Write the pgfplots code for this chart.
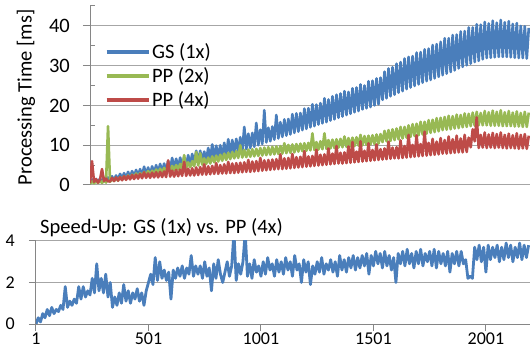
\documentclass[border=0pt]{standalone}
\usepackage{fontspec}
\setmainfont{Carlito}
\usepackage{pgfplots}
\usepackage{pgfplotstable}
\pgfplotsset{compat=1.18}
\definecolor{gsblue}{HTML}{4A7EBB}
\definecolor{ppgreen}{HTML}{98B954}
\definecolor{ppred}{HTML}{BE4B48}
\definecolor{gridgray}{HTML}{A6A6A6}
\definecolor{axisgray}{HTML}{868686}
\newcommand\fA{\fontsize{20.5bp}{23bp}\selectfont}
\newcommand\fB{\fontsize{18bp}{21bp}\selectfont}
\pgfplotstableread{
x gs pp2 pp4 su
1 0.5 0.3 0.5 0.0
11 1.4 0.9 6.0 0.3
21 0.6 0.4 0.8 0.1
31 1.5 1.0 1.5 0.5
41 0.7 0.5 0.6 0.3
51 1.6 1.1 1.4 0.7
61 0.8 0.5 4.0 0.4
71 1.8 1.2 1.0 0.8
81 0.9 0.6 1.6 0.5
91 1.9 14.8 0.9 0.7
101 1.0 0.8 0.9 0.6
111 2.2 1.6 1.8 0.9
121 1.2 1.0 1.0 0.7
131 2.4 1.8 1.9 1.8
141 1.3 1.1 1.1 0.8
151 2.8 2.0 2.0 1.1
161 1.5 1.3 1.2 0.9
171 3.0 2.2 2.2 1.2
181 1.6 1.5 1.3 1.0
191 3.3 2.4 2.3 1.8
201 1.8 1.7 1.4 1.2
211 3.5 2.6 2.5 1.8
221 2.0 1.9 1.5 1.3
231 3.8 2.9 2.6 1.6
241 2.1 2.0 1.6 1.4
251 4.0 3.0 2.8 2.2
261 2.3 2.2 1.7 1.5
271 4.6 3.3 3.2 2.9
281 2.5 2.4 1.8 1.6
291 4.4 3.5 2.9 2.2
301 2.5 2.5 1.8 1.5
311 4.7 3.6 3.1 2.4
321 2.8 2.7 1.9 1.3
331 5.0 3.9 3.2 2.0
341 3.0 2.9 1.9 0.8
351 5.3 4.1 3.3 1.3
361 3.3 3.1 2.0 0.9
371 5.4 4.3 3.4 1.5
381 3.5 3.3 2.0 1.0
391 6.0 4.6 6.2 1.9
401 3.8 3.5 2.1 1.1
411 6.8 4.8 3.6 1.6
421 4.0 3.7 2.1 1.0
431 6.6 5.0 3.8 1.5
441 4.3 3.9 2.2 1.2
451 6.9 5.3 3.9 1.7
461 4.6 4.1 2.3 1.1
471 7.0 7.5 5.8 1.5
481 4.8 4.3 2.3 0.9
491 7.5 5.7 4.1 1.6
501 5.1 4.5 2.4 2.0
511 7.8 6.0 4.2 2.4
521 5.3 4.7 2.4 1.9
531 8.6 8.3 4.4 3.2
541 5.6 4.9 2.5 2.1
551 8.6 8.0 4.5 3.0
561 5.9 5.1 2.6 2.2
571 8.4 6.7 5.2 2.6
581 6.1 5.3 2.6 2.1
591 9.3 6.9 4.7 2.5
601 6.4 5.4 2.7 1.2
611 10.2 7.2 4.8 2.6
621 6.6 5.7 2.8 2.2
631 9.9 7.4 5.5 2.7
641 6.9 5.9 2.8 2.3
651 10.0 7.6 5.0 2.8
661 7.1 6.1 2.9 2.2
671 10.6 7.9 5.2 2.7
681 7.4 6.3 2.9 2.4
691 11.5 8.1 5.8 3.3
701 7.7 6.5 3.0 2.3
711 11.3 8.3 5.4 2.8
721 7.9 6.7 3.0 2.4
731 11.6 8.5 5.5 2.8
741 8.3 6.8 3.1 2.2
751 12.0 10.0 5.6 3.0
761 8.6 6.9 3.2 2.3
771 14.6 8.8 5.7 2.7
781 9.0 7.0 3.3 1.6
791 12.9 8.9 6.3 2.9
801 9.3 7.1 3.3 2.2
811 13.1 9.0 5.9 3.1
821 9.6 7.2 3.4 2.4
831 15.6 9.1 6.0 2.0
841 10.0 7.3 3.5 2.5
851 13.9 9.3 6.8 3.0
861 10.3 7.4 3.6 2.3
871 18.8 9.4 6.2 2.8
881 10.7 7.5 3.7 4.4
891 14.4 9.5 6.3 2.1
901 11.0 7.6 3.8 2.9
911 14.7 9.6 6.4 2.4
921 11.4 7.7 3.9 3.0
931 17.6 9.7 6.5 4.4
941 11.7 7.8 4.0 2.3
951 15.8 9.8 7.7 2.9
961 12.1 7.9 4.0 2.2
971 16.5 10.5 6.7 3.1
981 12.4 8.0 4.1 2.5
991 16.6 10.1 6.8 2.8
1001 12.7 8.1 4.2 2.3
1011 17.8 10.2 7.8 3.0
1021 13.1 8.2 4.3 2.4
1031 18.0 10.3 7.0 3.2
1041 13.4 8.4 4.4 2.6
1051 18.1 10.4 7.1 2.9
1061 13.8 8.5 4.5 2.3
1071 19.2 10.5 8.5 3.1
1081 14.1 8.6 4.6 2.5
1091 19.3 10.6 7.2 3.0
1101 14.5 8.7 4.7 2.4
1111 20.3 13.0 7.3 3.2
1121 14.8 8.8 4.8 2.6
1131 20.2 10.8 8.9 3.0
1141 15.2 8.9 4.9 2.3
1151 20.6 11.0 7.6 3.3
1161 15.5 9.0 5.0 2.6
1171 21.8 13.0 7.7 2.9
1181 15.8 9.1 5.1 2.0
1191 21.5 11.3 9.2 3.1
1201 16.2 9.2 5.2 2.5
1211 22.3 11.4 7.9 3.0
1221 16.5 9.3 5.3 1.9
1231 22.7 11.5 9.8 2.8
1241 16.9 9.4 5.4 2.4
1251 23.0 11.6 8.1 3.0
1261 17.2 9.5 5.4 2.5
1271 23.6 12.2 8.2 3.2
1281 17.6 9.6 5.5 2.4
1291 23.4 11.8 9.7 2.9
1301 17.9 9.7 5.6 2.6
1311 24.3 11.9 10.8 3.1
1321 18.3 9.8 5.7 2.5
1331 24.5 12.0 8.4 3.0
1341 18.6 9.9 5.8 2.3
1351 25.3 12.6 11.0 3.3
1361 19.0 10.0 5.9 2.6
1371 25.0 12.3 8.6 3.1
1381 19.3 10.1 6.0 2.5
1391 26.1 12.4 10.5 3.2
1401 19.6 10.2 6.1 2.7
1411 26.2 12.5 8.8 3.3
1421 20.0 10.3 6.2 2.6
1431 26.8 12.7 10.2 3.2
1441 20.3 10.4 6.3 2.7
1451 27.0 12.8 9.0 3.3
1461 21.4 10.8 6.4 2.8
1471 28.5 13.6 9.2 3.4
1481 21.8 11.0 6.5 2.4
1491 29.3 13.8 10.9 3.3
1501 22.3 11.1 6.6 2.8
1511 29.6 14.0 9.4 3.5
1521 22.7 11.3 6.7 2.9
1531 30.5 14.2 9.5 3.4
1541 23.2 11.5 6.7 2.7
1551 30.9 14.6 11.2 3.5
1561 23.6 11.7 6.8 2.8
1571 31.8 14.6 9.8 3.3
1581 24.1 11.9 6.9 2.6
1591 32.2 15.0 12.6 3.2
1601 24.5 12.1 7.0 2.0
1611 32.4 15.3 10.1 3.4
1621 24.9 12.3 7.1 2.9
1631 33.3 15.4 12.5 3.5
1641 25.3 12.5 7.2 2.8
1651 33.4 15.9 10.3 3.6
1661 25.7 12.7 7.3 2.9
1671 34.1 15.9 13.4 3.4
1681 26.1 12.9 7.4 2.7
1691 34.3 16.3 10.6 3.5
1701 26.4 13.1 7.5 2.9
1711 35.2 16.4 11.6 3.6
1721 26.8 13.3 7.6 2.8
1731 35.4 16.8 10.9 3.4
1741 27.2 13.5 7.7 3.0
1751 36.0 16.9 11.8 3.5
1761 27.6 13.8 7.9 2.8
1771 36.9 17.1 11.3 3.6
1781 28.0 13.9 7.9 2.7
1791 36.9 17.4 12.2 3.5
1801 28.4 14.0 8.0 2.9
1811 37.7 17.3 11.5 3.4
1821 28.8 14.2 8.1 2.8
1831 37.8 17.7 12.4 3.5
1841 29.3 14.3 8.2 2.5
1851 38.6 17.6 11.7 3.4
1861 29.7 14.5 8.2 2.9
1871 38.7 18.0 12.6 3.5
1881 30.1 14.6 8.3 2.8
1891 39.6 17.9 11.9 3.5
1901 30.5 14.8 9.5 2.9
1911 39.6 18.2 14.0 3.1
1921 30.9 14.9 11.0 2.2
1931 40.4 18.4 17.0 2.3
1941 31.2 15.0 9.3 2.2
1951 40.3 18.1 12.6 3.7
1961 31.6 15.0 9.4 3.1
1971 41.0 18.6 13.2 3.8
1981 31.9 15.0 9.3 3.0
1991 40.6 18.3 12.7 3.7
2001 32.0 14.9 9.4 2.5
2011 41.3 18.7 13.1 3.8
2021 32.1 14.9 9.3 3.1
2031 40.8 18.4 12.8 3.7
2041 32.2 14.9 9.4 3.2
2051 41.5 18.8 13.2 3.8
2061 32.2 14.8 9.3 3.0
2071 40.9 18.3 12.6 3.7
2081 32.2 14.8 9.2 3.1
2091 41.2 18.6 12.9 3.9
2101 32.1 14.8 9.3 3.2
2111 40.5 18.2 12.5 3.8
2121 32.0 14.7 9.2 3.0
2131 40.7 18.5 13.0 3.7
2141 31.9 14.7 9.1 3.2
2151 40.0 18.1 12.6 3.9
2161 31.9 14.6 9.2 3.1
2171 39.9 18.4 12.8 3.8
2181 31.8 14.6 9.1 3.2
2191 39.5 18.2 12.4 3.8
}\data

\begin{document}
\begin{tikzpicture}
\useasboundingbox (0bp,0bp) rectangle (530bp,349bp);
\pgfplotsset{
  common/.style={
    scale only axis,
    /pgf/number format/assume math mode=true,
    /pgf/number format/1000 sep={},
    axis lines*=left,
    x axis line style={draw=axisgray, line width=1bp, -},
    y axis line style={draw=axisgray, line width=1bp, -},
    tick align=outside,
    major tick length=7bp,
    tick style={draw=axisgray, line width=1bp},
    ymajorgrids,
    grid style={draw=gridgray, line width=1bp},
    xmin=1, xmax=2197,
    clip=true,
  }
}
\begin{axis}[common,
  anchor=south west, at={(90bp,164bp)},
  width=440bp, height=179bp,
  ymin=0, ymax=45,
  ytick={0,10,20,30,40},
  xtick=\empty,
  x axis line style={draw=none},
  extra y ticks={5,15,25,35,45},
  extra y tick labels={},
  extra y tick style={tick align=inside, major tick length=5bp, grid=none},
  yticklabel style={font=\fA, inner sep=0pt, xshift=-13bp},
  ylabel={Processing Time [ms]},
  ylabel style={font=\fA, at={(axis description cs:-0.1455,0.49)}, anchor=center},
  legend style={draw=none, fill=none, font=\fA, at={(axis description cs:0.026,0.81)}, anchor=north west,
    row sep=4.5bp, nodes={inner sep=1.5bp}},
  legend cell align=left,
  legend image code/.code={\draw[line width=4bp] (0bp,0bp) -- (42bp,0bp);},
]
\addplot[gsblue, line width=2.6bp, line join=round] table[x=x, y=gs] {\data};
\addlegendentry{GS (1x)}
\addplot[ppgreen, line width=2.6bp, line join=round] table[x=x, y=pp2] {\data};
\addlegendentry{PP (2x)}
\addplot[ppred, line width=2.6bp, line join=round] table[x=x, y=pp4] {\data};
\addlegendentry{PP (4x)}
\end{axis}
\begin{axis}[common,
  anchor=south west, at={(36bp,25bp)},
  width=494bp, height=83bp,
  ymin=0, ymax=4,
  ytick={0,2,4},
  xtick={1,501,1001,1501,2001},
  yticklabel style={font=\fB, inner sep=0pt, xshift=-14bp},
  xticklabel style={font=\fB, inner sep=0pt, yshift=-2bp},
]
\addplot[gsblue, line width=2.8bp, line join=round] table[x=x, y=su] {\data};
\end{axis}
\node[anchor=base west, font=\fA, inner sep=0pt] at (40bp,115bp) {Speed-Up: GS (1x) vs. PP (4x)};
\end{tikzpicture}
\end{document}
